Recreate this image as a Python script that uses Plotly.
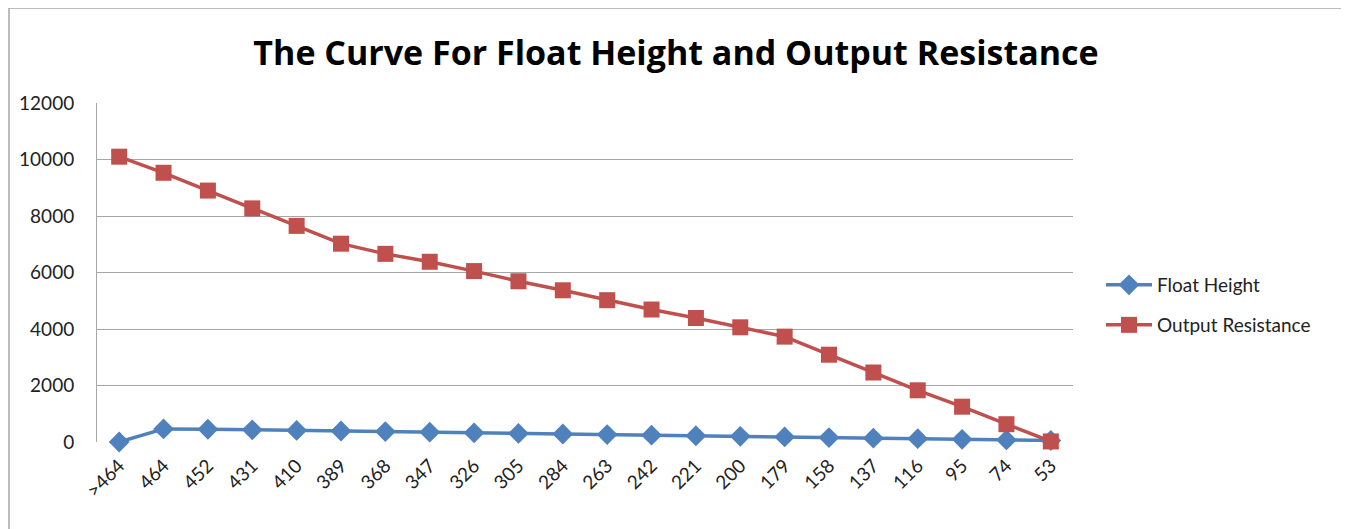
import plotly.graph_objects as go

categories = [">464", "464", "452", "431", "410", "389", "368", "347", "326", "305", "284",
              "263", "242", "221", "200", "179", "158", "137", "116", "95", "74", "53"]
float_height = [0, 464, 452, 431, 410, 389, 368, 347, 326, 305, 284,
                263, 242, 221, 200, 179, 158, 137, 116, 95, 74, 53]
output_resistance = [10100, 9530, 8900, 8270, 7650, 7020, 6660, 6380, 6050, 5690, 5370,
                     5020, 4690, 4390, 4060, 3730, 3090, 2460, 1830, 1250, 630, 20]
y_ticks = [0, 2000, 4000, 6000, 8000, 10000, 12000]
y_tick_text = ["0", "2000", "4000", "6000", "8000", "10000", "12000"]

BLUE = "#4F81BD"
RED = "#C0504D"
FONT = "Lato"

O = 8  # page body margin offset
W, H = 1349 - O, 529 - O
# target pixel positions in the reference (page coordinates)
PL, PR, PT, PB = 97, 1073, 103, 442
L, T = PL - O, PT - O
pw, ph = PR - PL, PB - PT
R = W - L - pw
B = H - T - ph

def px_x(x):
    return (x - PL) / pw

def px_y(y):
    return (PB - y) / ph

fig = go.Figure()
fig.add_trace(go.Scatter(
    x=categories, y=float_height, name="Float Height", mode="lines+markers",
    line=dict(color=BLUE, width=3.5),
    marker=dict(symbol="diamond", size=16, color=BLUE),
    legend="legend", cliponaxis=False,
))
fig.add_trace(go.Scatter(
    x=categories, y=output_resistance, name="Output Resistance", mode="lines+markers",
    line=dict(color=RED, width=3.5),
    marker=dict(symbol="square", size=16, color=RED),
    legend="legend2", cliponaxis=False,
))

fig.update_layout(
    width=W, height=H,
    margin=dict(l=L, r=R, t=T, b=B, autoexpand=False),
    paper_bgcolor="white", plot_bgcolor="white",
    showlegend=True,
    font=dict(family=FONT, color="#222222", size=19),
    title=dict(text="<b>The Curve For Float Height and Output Resistance</b>",
               x=(676 - O) / W, xref="container", xanchor="center",
               y=1 - (53 - O) / H, yref="container", yanchor="middle",
               font=dict(family="Open Sans", size=34, color="black")),
    xaxis=dict(type="category", range=[-0.5, len(categories) - 0.5],
               showgrid=False, showline=False, zeroline=False,
               tickangle=-45, ticks="", ticklabelstandoff=8,
               tickfont=dict(size=19, color="#222222")),
    yaxis=dict(range=[0, 12000], tickvals=y_ticks, ticktext=y_tick_text, showgrid=True,
               gridcolor="#A6A6A6", gridwidth=1, zeroline=False,
               showline=True, linecolor="#A6A6A6", linewidth=1,
               ticks="outside", ticklen=18, tickcolor="rgba(0,0,0,0)",
               tickfont=dict(size=19, color="#222222")),
    legend=dict(x=px_x(1101), y=px_y(285), xanchor="left", yanchor="middle",
                font=dict(size=19, color="#222222"), bgcolor="rgba(0,0,0,0)",
                itemwidth=46),
    legend2=dict(x=px_x(1101), y=px_y(325), xanchor="left", yanchor="middle",
                 font=dict(size=19, color="#222222"), bgcolor="rgba(0,0,0,0)",
                 itemwidth=46),
    shapes=[dict(type="rect", xref="paper", yref="paper",
                 x0=px_x(9), x1=px_x(1346), y0=px_y(545), y1=px_y(8),
                 line=dict(color="#A6A6A6", width=1.5), fillcolor="rgba(0,0,0,0)",
                 layer="below")],
)

fig.write_html("out.html")
